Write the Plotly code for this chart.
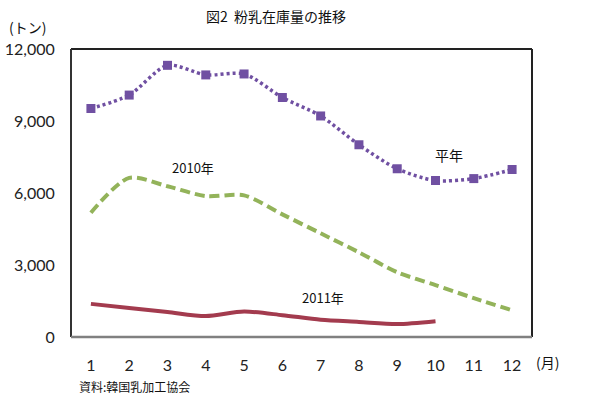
import plotly.graph_objects as go

months = list(range(1, 13))
month_labels = [str(m) for m in months]
normal_year = [9520, 10080, 11320, 10920, 10960, 9980, 9210, 8010, 7010, 6520, 6600, 6980]
y2010 = [5180, 6630, 6280, 5870, 5900, 5110, 4320, 3530, 2700, 2160, 1620, 1110]
y2011 = [1380, 1210, 1040, 870, 1060, 910, 720, 630, 540, 660]
y_ticks = [0, 3000, 6000, 9000, 12000]
y_tick_labels = ["0", "3,000", "6,000", "9,000", "12,000"]

PURPLE = "#7050A2"
GREEN = "#93B35A"
RED = "#A33B4E"
CJK = "Noto Sans CJK JP"
NUM = "Lato"

fig = go.Figure()
fig.add_trace(go.Scatter(x=months, y=normal_year, mode="lines+markers", name="平年",
                         line=dict(color=PURPLE, width=3.5, dash="3px,3px", shape="spline", smoothing=0.8),
                         marker=dict(symbol="square", size=9, color=PURPLE)))
fig.add_trace(go.Scatter(x=months, y=y2010, mode="lines", name="2010年",
                         line=dict(color=GREEN, width=4, dash="10px,5px", shape="spline", smoothing=0.8)))
fig.add_trace(go.Scatter(x=months[:len(y2011)], y=y2011, mode="lines", name="2011年",
                         line=dict(color=RED, width=4, shape="spline", smoothing=0.8)))

fig.update_layout(
    width=597, height=399,
    margin=dict(l=71, r=65, t=49, b=62, autoexpand=False),
    paper_bgcolor="white", plot_bgcolor="white",
    showlegend=False,
    xaxis=dict(range=[0.48, 12.52], tickmode="array", tickvals=months, ticktext=month_labels,
               automargin=False,
               showgrid=False, zeroline=False, showline=False,
               ticks="outside", ticklen=14, tickcolor="rgba(0,0,0,0)",
               tickfont=dict(family=NUM, size=16, color="#222")),
    yaxis=dict(range=[0, 12000], tickmode="array", tickvals=y_ticks, ticktext=y_tick_labels,
               automargin=False,
               showgrid=False, zeroline=False, showline=False,
               ticks="outside", ticklen=12, tickcolor="rgba(0,0,0,0)",
               tickfont=dict(family=NUM, size=16, color="#222")),
    shapes=[
        dict(type="line", xref="paper", yref="paper", x0=0, x1=1, y0=1, y1=1,
             line=dict(color="#222", width=2), layer="above"),
        dict(type="line", xref="paper", yref="paper", x0=0, x1=0, y0=0, y1=1,
             line=dict(color="#333", width=2), layer="above"),
        dict(type="line", xref="paper", yref="paper", x0=1, x1=1, y0=0, y1=1,
             line=dict(color="#222", width=2), layer="above"),
        dict(type="line", xref="paper", yref="paper", x0=0, x1=1, y0=0, y1=0,
             line=dict(color="#808080", width=2.5), layer="above"),
    ],
    annotations=[
        dict(text="図2  粉乳在庫量の推移", xref="paper", yref="paper", x=0.445, y=1.0, yshift=33,
             showarrow=False, font=dict(family=CJK, size=14, color="#111"), xanchor="center", yanchor="middle"),
        dict(text="(トン)", xref="paper", yref="paper", x=0, y=1.0, xshift=-64, yshift=22,
             showarrow=False, font=dict(family=CJK, size=14, color="#111"), xanchor="left", yanchor="middle"),
        dict(text="(月)", xref="paper", yref="paper", x=1, y=0, xshift=2, yshift=-25,
             showarrow=False, font=dict(family=CJK, size=14, color="#111"), xanchor="left", yanchor="middle"),
        dict(text="資料:韓国乳加工協会", xref="paper", yref="paper", x=0, y=0, xshift=6, yshift=-49,
             showarrow=False, font=dict(family=CJK, size=12, color="#111"), xanchor="left", yanchor="middle"),
        dict(text="2010年", x=3.67, y=7060, showarrow=False,
             font=dict(family=CJK, size=13, color="#111")),
        dict(text="平年", x=10.35, y=7600, showarrow=False,
             font=dict(family=CJK, size=14, color="#111")),
        dict(text="2011年", x=7.05, y=1660, showarrow=False,
             font=dict(family=CJK, size=13, color="#111")),
    ],
)

fig.write_html("out.html", config={"displayModeBar": False},
               post_script="document.body.style.margin='0';")
